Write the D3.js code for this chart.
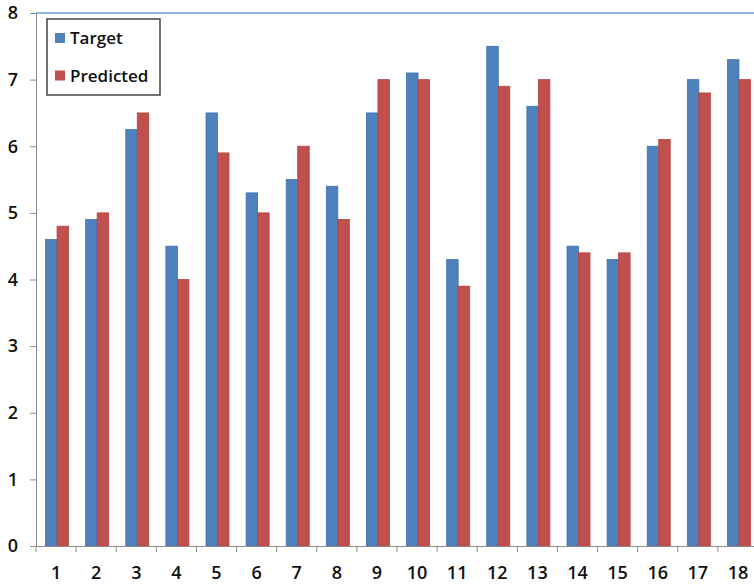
<!DOCTYPE html>
<html>
<head>
<meta charset="utf-8">
<script src="https://cdn.jsdelivr.net/npm/d3@7"></script>
<style>
  body { margin: 0; background: #fff; }
  svg { display: block; font-family: "Open Sans", sans-serif; }
</style>
</head>
<body>
<div id="chart"></div>
<script>
// values
var categories = ["1","2","3","4","5","6","7","8","9","10","11","12","13","14","15","16","17","18"];
var target    = [4.6, 4.9, 6.25, 4.5, 6.5, 5.3, 5.5, 5.4, 6.5, 7.1, 4.3, 7.5, 6.6, 4.5, 4.3, 6.0, 7.0, 7.3];
var predicted = [4.8, 5.0, 6.5, 4.0, 5.9, 5.0, 6.0, 4.9, 7.0, 7.0, 3.9, 6.9, 7.0, 4.4, 4.4, 6.1, 6.8, 7.0];
var yTicks = [0, 1, 2, 3, 4, 5, 6, 7, 8];
var seriesNames = ["Target", "Predicted"];
var colors = ["#4F81BD", "#C0504D"];
var strokes = ["#3f72b0", "#b8423f"];

var width = 754, height = 585;
var plotLeft = 36, plotTop = 13, plotRight = 758, plotBottom = 546;

var svg = d3.select("#chart").append("svg")
  .attr("width", width).attr("height", height);

var x = d3.scaleBand().domain(categories).range([plotLeft, plotRight]);
var x1 = d3.scaleBand().domain(seriesNames).range([0, 23]);
var y = d3.scaleLinear().domain([0, 8]).range([plotBottom, plotTop]);

// top border line
svg.append("line")
  .attr("x1", plotLeft).attr("x2", width)
  .attr("y1", y(8)).attr("y2", y(8))
  .attr("stroke", "#6a9fd6").attr("stroke-width", 1.5);

var rows = categories.map(function (c, i) {
  return {cat: c, values: [target[i], predicted[i]]};
});

var groups = svg.selectAll("g.cat")
  .data(rows).enter().append("g")
  .attr("class", "cat")
  .attr("transform", function (d) {
    return "translate(" + (x(d.cat) + x.bandwidth() / 2 - 10.5) + ",0)";
  });

groups.selectAll("rect")
  .data(function (d) {
    return d.values.map(function (v, j) { return {name: seriesNames[j], v: v, j: j}; });
  })
  .enter().append("rect")
  .attr("x", function (d) { return x1(d.name); })
  .attr("width", x1.bandwidth())
  .attr("y", function (d) { return y(d.v); })
  .attr("height", function (d) { return plotBottom - y(d.v); })
  .attr("fill", function (d) { return colors[d.j]; })
  .attr("stroke", function (d) { return strokes[d.j]; })
  .attr("stroke-width", 0.8);

// y axis
var yAxis = d3.axisLeft(y).tickValues(yTicks).tickSize(6).tickPadding(12)
  .tickFormat(d3.format("d"));
var yg = svg.append("g").attr("transform", "translate(" + plotLeft + ",0)").call(yAxis);
yg.select(".domain").attr("stroke", "#8c8c8c");
yg.selectAll(".tick line").attr("stroke", "#8c8c8c");
yg.selectAll(".tick text")
  .attr("font-size", 18).attr("font-weight", 600).attr("fill", "#111")
  .attr("font-family", "Open Sans, sans-serif");

// x axis
var xAxis = d3.axisBottom(x).tickSize(0).tickPadding(20);
var xg = svg.append("g").attr("transform", "translate(0," + plotBottom + ")").call(xAxis);
xg.select(".domain").attr("stroke", "#8c8c8c");
xg.selectAll(".tick text")
  .attr("font-size", 18).attr("font-weight", 600).attr("fill", "#111")
  .attr("font-family", "Open Sans, sans-serif");
// separator ticks between categories
xg.selectAll("line.sep")
  .data(categories).enter().append("line")
  .attr("class", "sep")
  .attr("x1", function (d) { return x(d); })
  .attr("x2", function (d) { return x(d); })
  .attr("y1", 0).attr("y2", 6)
  .attr("stroke", "#8c8c8c");

// legend
var legend = svg.append("g");
legend.append("rect")
  .attr("x", 47).attr("y", 19).attr("width", 113).attr("height", 76)
  .attr("fill", "#fff").attr("stroke", "#444").attr("stroke-width", 1.5);
var items = legend.selectAll("g.item")
  .data(seriesNames).enter().append("g")
  .attr("class", "item")
  .attr("transform", function (d, i) { return "translate(55," + (38 + i * 37.5) + ")"; });
items.append("rect")
  .attr("x", 0).attr("y", -5).attr("width", 10).attr("height", 10)
  .attr("fill", function (d, i) { return colors[i]; });
items.append("text")
  .attr("x", 15).attr("y", 6)
  .attr("font-size", 17).attr("font-weight", 600).attr("fill", "#111")
  .text(function (d) { return d; });
</script>
</body>
</html>
